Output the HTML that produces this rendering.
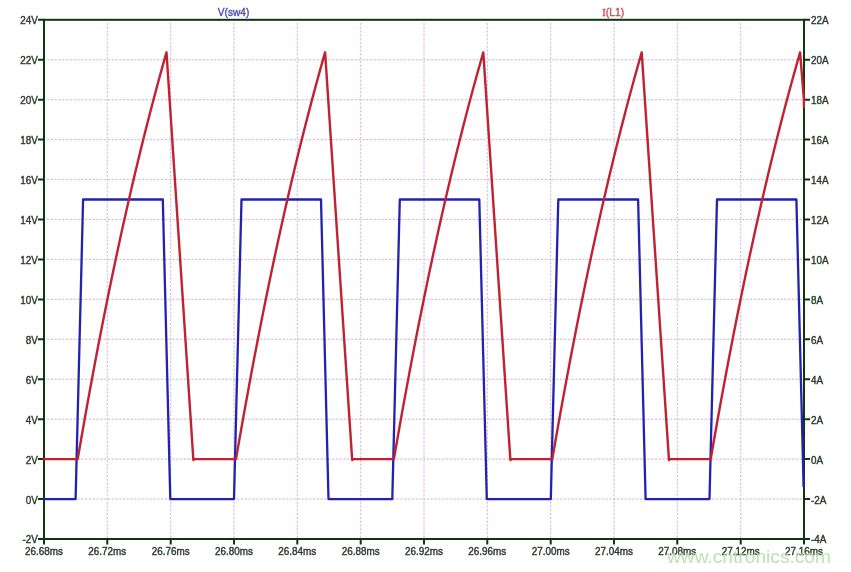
<!DOCTYPE html><html><head><meta charset="utf-8"><style>html,body{margin:0;padding:0;background:#fff;}svg{display:block;will-change:transform}text{font-family:"Liberation Sans",sans-serif;}</style></head><body>
<svg width="851" height="572" viewBox="0 0 851 572">
<rect width="851" height="572" fill="#fff"/>
<defs><clipPath id="c"><rect x="43" y="18" width="762" height="522"/></clipPath></defs>
<path d="M107.33 23.1V538.0M170.67 23.1V538.0M234.00 23.1V538.0M297.33 23.1V538.0M360.67 23.1V538.0M424.00 23.1V538.0M487.33 23.1V538.0M550.67 23.1V538.0M614.00 23.1V538.0M677.33 23.1V538.0M740.67 23.1V538.0M47.3 59.74H803.0M47.3 99.68H803.0M47.3 139.62H803.0M47.3 179.55H803.0M47.3 219.49H803.0M47.3 259.43H803.0M47.3 299.37H803.0M47.3 339.31H803.0M47.3 379.25H803.0M47.3 419.18H803.0M47.3 459.12H803.0M47.3 499.06H803.0" stroke="#fbf0fb" stroke-width="1.6" fill="none"/>
<path d="M107.33 23.1V538.0M170.67 23.1V538.0M234.00 23.1V538.0M297.33 23.1V538.0M360.67 23.1V538.0M424.00 23.1V538.0M487.33 23.1V538.0M550.67 23.1V538.0M614.00 23.1V538.0M677.33 23.1V538.0M740.67 23.1V538.0M47.3 59.74H803.0M47.3 99.68H803.0M47.3 139.62H803.0M47.3 179.55H803.0M47.3 219.49H803.0M47.3 259.43H803.0M47.3 299.37H803.0M47.3 339.31H803.0M47.3 379.25H803.0M47.3 419.18H803.0M47.3 459.12H803.0M47.3 499.06H803.0" stroke="#c6b8cc" stroke-width="1" stroke-dasharray="1.6 2.2" fill="none"/>
<rect x="44.0" y="19.8" width="760.0" height="519.2" stroke="#10360f" stroke-width="2" fill="none"/>
<path d="M38.0 19.8H44.0M804.0 19.8H810.0M38.0 59.7H44.0M804.0 59.7H810.0M38.0 99.7H44.0M804.0 99.7H810.0M38.0 139.6H44.0M804.0 139.6H810.0M38.0 179.6H44.0M804.0 179.6H810.0M38.0 219.5H44.0M804.0 219.5H810.0M38.0 259.4H44.0M804.0 259.4H810.0M38.0 299.4H44.0M804.0 299.4H810.0M38.0 339.3H44.0M804.0 339.3H810.0M38.0 379.2H44.0M804.0 379.2H810.0M38.0 419.2H44.0M804.0 419.2H810.0M38.0 459.1H44.0M804.0 459.1H810.0M38.0 499.1H44.0M804.0 499.1H810.0M38.0 539.0H44.0M804.0 539.0H810.0M44.0 539.0V544.5M107.3 539.0V544.5M170.7 539.0V544.5M234.0 539.0V544.5M297.3 539.0V544.5M360.7 539.0V544.5M424.0 539.0V544.5M487.3 539.0V544.5M550.7 539.0V544.5M614.0 539.0V544.5M677.3 539.0V544.5M740.7 539.0V544.5M804.0 539.0V544.5" stroke="#10360f" stroke-width="2" fill="none"/>
<text x="37.9" y="24.2" font-size="11" fill="#283a2a" text-anchor="end" textLength="17.6" lengthAdjust="spacingAndGlyphs" stroke="#283a2a" stroke-width="0.4">24V</text>
<text x="811.0" y="24.2" font-size="11" fill="#283a2a" text-anchor="start" textLength="17.6" lengthAdjust="spacingAndGlyphs" stroke="#283a2a" stroke-width="0.4">22A</text>
<text x="37.9" y="64.1" font-size="11" fill="#283a2a" text-anchor="end" textLength="17.6" lengthAdjust="spacingAndGlyphs" stroke="#283a2a" stroke-width="0.4">22V</text>
<text x="811.0" y="64.1" font-size="11" fill="#283a2a" text-anchor="start" textLength="17.6" lengthAdjust="spacingAndGlyphs" stroke="#283a2a" stroke-width="0.4">20A</text>
<text x="37.9" y="104.1" font-size="11" fill="#283a2a" text-anchor="end" textLength="17.6" lengthAdjust="spacingAndGlyphs" stroke="#283a2a" stroke-width="0.4">20V</text>
<text x="811.0" y="104.1" font-size="11" fill="#283a2a" text-anchor="start" textLength="17.6" lengthAdjust="spacingAndGlyphs" stroke="#283a2a" stroke-width="0.4">18A</text>
<text x="37.9" y="144.0" font-size="11" fill="#283a2a" text-anchor="end" textLength="17.6" lengthAdjust="spacingAndGlyphs" stroke="#283a2a" stroke-width="0.4">18V</text>
<text x="811.0" y="144.0" font-size="11" fill="#283a2a" text-anchor="start" textLength="17.6" lengthAdjust="spacingAndGlyphs" stroke="#283a2a" stroke-width="0.4">16A</text>
<text x="37.9" y="184.0" font-size="11" fill="#283a2a" text-anchor="end" textLength="17.6" lengthAdjust="spacingAndGlyphs" stroke="#283a2a" stroke-width="0.4">16V</text>
<text x="811.0" y="184.0" font-size="11" fill="#283a2a" text-anchor="start" textLength="17.6" lengthAdjust="spacingAndGlyphs" stroke="#283a2a" stroke-width="0.4">14A</text>
<text x="37.9" y="223.9" font-size="11" fill="#283a2a" text-anchor="end" textLength="17.6" lengthAdjust="spacingAndGlyphs" stroke="#283a2a" stroke-width="0.4">14V</text>
<text x="811.0" y="223.9" font-size="11" fill="#283a2a" text-anchor="start" textLength="17.6" lengthAdjust="spacingAndGlyphs" stroke="#283a2a" stroke-width="0.4">12A</text>
<text x="37.9" y="263.8" font-size="11" fill="#283a2a" text-anchor="end" textLength="17.6" lengthAdjust="spacingAndGlyphs" stroke="#283a2a" stroke-width="0.4">12V</text>
<text x="811.0" y="263.8" font-size="11" fill="#283a2a" text-anchor="start" textLength="17.6" lengthAdjust="spacingAndGlyphs" stroke="#283a2a" stroke-width="0.4">10A</text>
<text x="37.9" y="303.8" font-size="11" fill="#283a2a" text-anchor="end" textLength="17.6" lengthAdjust="spacingAndGlyphs" stroke="#283a2a" stroke-width="0.4">10V</text>
<text x="811.0" y="303.8" font-size="11" fill="#283a2a" text-anchor="start" textLength="12.1" lengthAdjust="spacingAndGlyphs" stroke="#283a2a" stroke-width="0.4">8A</text>
<text x="37.9" y="343.7" font-size="11" fill="#283a2a" text-anchor="end" textLength="12.1" lengthAdjust="spacingAndGlyphs" stroke="#283a2a" stroke-width="0.4">8V</text>
<text x="811.0" y="343.7" font-size="11" fill="#283a2a" text-anchor="start" textLength="12.1" lengthAdjust="spacingAndGlyphs" stroke="#283a2a" stroke-width="0.4">6A</text>
<text x="37.9" y="383.6" font-size="11" fill="#283a2a" text-anchor="end" textLength="12.1" lengthAdjust="spacingAndGlyphs" stroke="#283a2a" stroke-width="0.4">6V</text>
<text x="811.0" y="383.6" font-size="11" fill="#283a2a" text-anchor="start" textLength="12.1" lengthAdjust="spacingAndGlyphs" stroke="#283a2a" stroke-width="0.4">4A</text>
<text x="37.9" y="423.6" font-size="11" fill="#283a2a" text-anchor="end" textLength="12.1" lengthAdjust="spacingAndGlyphs" stroke="#283a2a" stroke-width="0.4">4V</text>
<text x="811.0" y="423.6" font-size="11" fill="#283a2a" text-anchor="start" textLength="12.1" lengthAdjust="spacingAndGlyphs" stroke="#283a2a" stroke-width="0.4">2A</text>
<text x="37.9" y="463.5" font-size="11" fill="#283a2a" text-anchor="end" textLength="12.1" lengthAdjust="spacingAndGlyphs" stroke="#283a2a" stroke-width="0.4">2V</text>
<text x="811.0" y="463.5" font-size="11" fill="#283a2a" text-anchor="start" textLength="12.1" lengthAdjust="spacingAndGlyphs" stroke="#283a2a" stroke-width="0.4">0A</text>
<text x="37.9" y="503.5" font-size="11" fill="#283a2a" text-anchor="end" textLength="12.1" lengthAdjust="spacingAndGlyphs" stroke="#283a2a" stroke-width="0.4">0V</text>
<text x="811.0" y="503.5" font-size="11" fill="#283a2a" text-anchor="start" textLength="15.4" lengthAdjust="spacingAndGlyphs" stroke="#283a2a" stroke-width="0.4">-2A</text>
<text x="37.9" y="543.4" font-size="11" fill="#283a2a" text-anchor="end" textLength="15.4" lengthAdjust="spacingAndGlyphs" stroke="#283a2a" stroke-width="0.4">-2V</text>
<text x="811.0" y="543.4" font-size="11" fill="#283a2a" text-anchor="start" textLength="15.4" lengthAdjust="spacingAndGlyphs" stroke="#283a2a" stroke-width="0.4">-4A</text>
<text x="44.0" y="554.8" font-size="11" fill="#283a2a" text-anchor="middle" textLength="38.0" lengthAdjust="spacingAndGlyphs" stroke="#283a2a" stroke-width="0.4">26.68ms</text>
<text x="107.3" y="554.8" font-size="11" fill="#283a2a" text-anchor="middle" textLength="38.0" lengthAdjust="spacingAndGlyphs" stroke="#283a2a" stroke-width="0.4">26.72ms</text>
<text x="170.7" y="554.8" font-size="11" fill="#283a2a" text-anchor="middle" textLength="38.0" lengthAdjust="spacingAndGlyphs" stroke="#283a2a" stroke-width="0.4">26.76ms</text>
<text x="234.0" y="554.8" font-size="11" fill="#283a2a" text-anchor="middle" textLength="38.0" lengthAdjust="spacingAndGlyphs" stroke="#283a2a" stroke-width="0.4">26.80ms</text>
<text x="297.3" y="554.8" font-size="11" fill="#283a2a" text-anchor="middle" textLength="38.0" lengthAdjust="spacingAndGlyphs" stroke="#283a2a" stroke-width="0.4">26.84ms</text>
<text x="360.7" y="554.8" font-size="11" fill="#283a2a" text-anchor="middle" textLength="38.0" lengthAdjust="spacingAndGlyphs" stroke="#283a2a" stroke-width="0.4">26.88ms</text>
<text x="424.0" y="554.8" font-size="11" fill="#283a2a" text-anchor="middle" textLength="38.0" lengthAdjust="spacingAndGlyphs" stroke="#283a2a" stroke-width="0.4">26.92ms</text>
<text x="487.3" y="554.8" font-size="11" fill="#283a2a" text-anchor="middle" textLength="38.0" lengthAdjust="spacingAndGlyphs" stroke="#283a2a" stroke-width="0.4">26.96ms</text>
<text x="550.7" y="554.8" font-size="11" fill="#283a2a" text-anchor="middle" textLength="38.0" lengthAdjust="spacingAndGlyphs" stroke="#283a2a" stroke-width="0.4">27.00ms</text>
<text x="614.0" y="554.8" font-size="11" fill="#283a2a" text-anchor="middle" textLength="38.0" lengthAdjust="spacingAndGlyphs" stroke="#283a2a" stroke-width="0.4">27.04ms</text>
<text x="677.3" y="554.8" font-size="11" fill="#283a2a" text-anchor="middle" textLength="38.0" lengthAdjust="spacingAndGlyphs" stroke="#283a2a" stroke-width="0.4">27.08ms</text>
<text x="740.7" y="554.8" font-size="11" fill="#283a2a" text-anchor="middle" textLength="38.0" lengthAdjust="spacingAndGlyphs" stroke="#283a2a" stroke-width="0.4">27.12ms</text>
<text x="804.0" y="554.8" font-size="11" fill="#283a2a" text-anchor="middle" textLength="38.0" lengthAdjust="spacingAndGlyphs" stroke="#283a2a" stroke-width="0.4">27.16ms</text>
<text x="233.6" y="15.7" font-size="11" fill="#4c4cb8" text-anchor="middle" textLength="31.5" lengthAdjust="spacingAndGlyphs" stroke="#4c4cb8" stroke-width="0.4">V(sw4)</text>
<text x="602.2" y="15.8" font-size="11" textLength="21.9" lengthAdjust="spacingAndGlyphs" fill="#c8505c" stroke="#c8505c" stroke-width="0.4"><tspan font-family="Liberation Serif" font-size="11.4">I</tspan><tspan>(L1)</tspan></text>
<g clip-path="url(#c)" fill="none" stroke-linejoin="round" stroke-linecap="round">
<polyline points="43.00,499.06 75.60,499.06 83.10,199.52 162.80,199.52 170.30,499.06 234.00,499.06 241.50,199.52 321.00,199.52 328.50,499.06 392.30,499.06 399.80,199.52 479.30,199.52 486.80,499.06 550.80,499.06 558.30,199.52 638.10,199.52 645.60,499.06 709.50,499.06 717.00,199.52 796.40,199.52 803.60,487.00" stroke="#2222ae" stroke-width="2.3" stroke-linecap="butt"/>
<polyline points="43.00,459.12 77.70,459.12 80.70,441.71 83.70,424.60 86.70,407.79 89.70,391.26 92.70,375.01 95.70,359.04 98.70,343.35 101.70,327.93 104.70,312.77 107.70,297.87 110.70,283.22 113.70,268.83 116.70,254.68 119.70,240.78 122.70,227.11 125.70,213.68 128.70,200.48 131.70,187.50 134.70,174.75 137.70,162.22 140.70,149.90 143.70,137.79 146.70,125.89 149.70,114.19 152.70,102.70 155.70,91.40 158.70,80.29 161.70,69.38 164.70,58.65 166.50,52.30 193.40,460.12 194.70,459.12 236.00,459.12 239.00,441.76 242.00,424.69 245.00,407.92 248.00,391.43 251.00,375.23 254.00,359.30 257.00,343.65 260.00,328.26 263.00,313.14 266.00,298.28 269.00,283.68 272.00,269.32 275.00,255.21 278.00,241.34 281.00,227.71 284.00,214.31 287.00,201.14 290.00,188.20 293.00,175.48 296.00,162.98 299.00,150.69 302.00,138.62 305.00,126.75 308.00,115.08 311.00,103.61 314.00,92.34 317.00,81.27 320.00,70.38 323.00,59.68 325.10,52.30 352.20,460.12 353.50,459.12 393.90,459.12 396.90,441.80 399.90,424.78 402.90,408.05 405.90,391.61 408.90,375.44 411.90,359.56 414.90,343.95 417.90,328.60 420.90,313.52 423.90,298.70 426.90,284.13 429.90,269.81 432.90,255.73 435.90,241.90 438.90,228.30 441.90,214.94 444.90,201.81 447.90,188.90 450.90,176.21 453.90,163.74 456.90,151.49 459.90,139.44 462.90,127.60 465.90,115.96 468.90,104.53 471.90,93.29 474.90,82.24 477.90,71.38 480.90,60.71 483.30,52.30 510.40,460.12 511.70,459.12 552.30,459.12 555.30,441.80 558.30,424.78 561.30,408.05 564.30,391.61 567.30,375.44 570.30,359.56 573.30,343.95 576.30,328.60 579.30,313.52 582.30,298.70 585.30,284.13 588.30,269.81 591.30,255.73 594.30,241.90 597.30,228.30 600.30,214.94 603.30,201.81 606.30,188.90 609.30,176.21 612.30,163.74 615.30,151.49 618.30,139.44 621.30,127.60 624.30,115.96 627.30,104.53 630.30,93.29 633.30,82.24 636.30,71.38 639.30,60.71 641.70,52.30 669.00,460.12 670.30,459.12 710.70,459.12 713.70,441.80 716.70,424.78 719.70,408.05 722.70,391.61 725.70,375.44 728.70,359.56 731.70,343.95 734.70,328.60 737.70,313.52 740.70,298.70 743.70,284.13 746.70,269.81 749.70,255.73 752.70,241.90 755.70,228.30 758.70,214.94 761.70,201.81 764.70,188.90 767.70,176.21 770.70,163.74 773.70,151.49 776.70,139.44 779.70,127.60 782.70,115.96 785.70,104.53 788.70,93.29 791.70,82.24 794.70,71.38 797.70,60.71 800.10,52.30 803.90,100.00 804.00,108.00" stroke="#bf2230" stroke-width="2.4" stroke-linecap="butt"/>
</g>
<text x="667" y="562.8" font-size="19.2" fill="#b4deab" fill-opacity="0.9" textLength="164.0" lengthAdjust="spacingAndGlyphs">www.cntronics.com</text>
</svg></body></html>
